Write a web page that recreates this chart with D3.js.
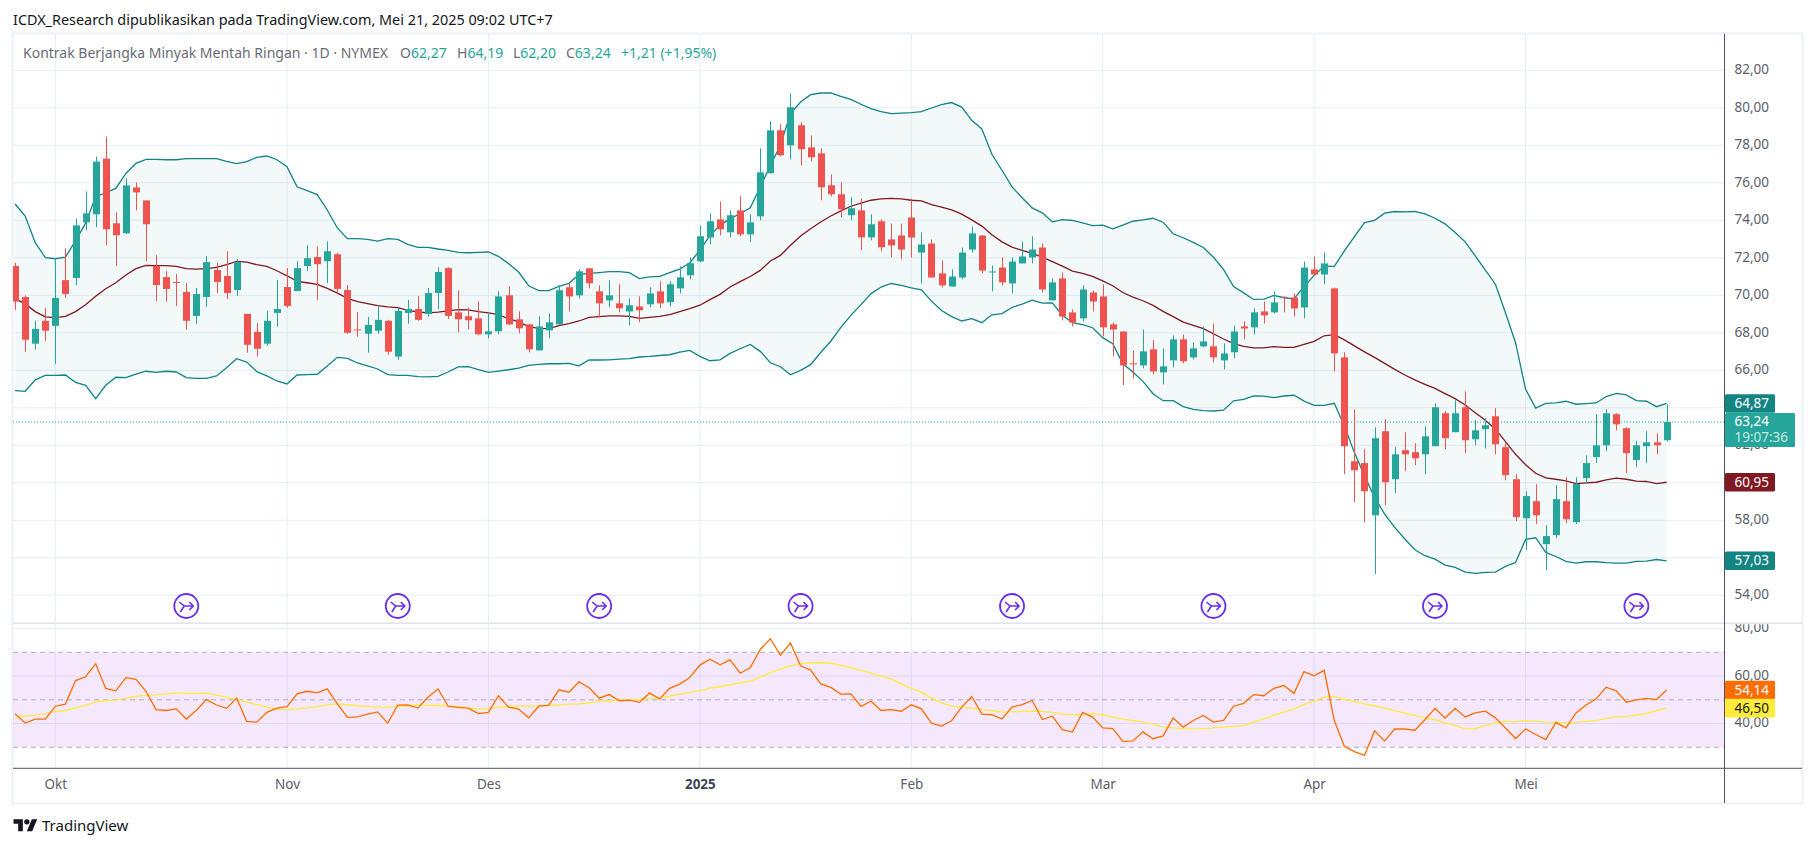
<!DOCTYPE html>
<html>
<head>
<meta charset="utf-8">
<title>Kontrak Berjangka Minyak Mentah Ringan</title>
<script src="https://cdn.jsdelivr.net/npm/d3@7"></script>
<style>
  html, body { margin: 0; padding: 0; background: #fff; }
  text { font-family: "Noto Sans", sans-serif; }
</style>
</head>
<body>
<div id="chart"></div>
<script>
// one entry per daily bar, left to right (the last bar is Mei 21)
const opens = [
  71.56,69.91,67.42,68.64,68.37,70.81,70.92,73.89,74.32,77.29,
  73.84,73.31,75.75,75.06,71.56,70.97,70.71,70.18,68.90,69.91,
  71.35,71.03,70.28,69.01,68.05,67.42,69.06,70.44,70.23,71.56,
  72.04,71.82,72.19,70.28,68.18,67.95,68.11,68.64,66.73,69.06,
  69.27,69.01,70.12,71.45,69.09,68.88,68.77,67.92,68.08,70.00,
  68.72,68.45,67.06,68.13,68.45,70.43,70.00,71.44,70.21,69.73,
  69.57,69.14,69.41,69.52,70.21,69.63,70.37,71.07,71.81,73.09,
  74.05,73.36,74.53,73.25,74.21,76.51,78.80,78.00,79.07,77.89,
  77.57,75.87,75.39,74.27,74.53,73.09,73.95,72.98,73.19,74.15,
  72.28,72.76,71.17,70.47,70.95,72.44,73.19,71.24,71.48,70.63,
  71.70,72.02,72.55,69.73,70.90,69.09,68.77,70.15,69.94,68.45,
  68.07,66.37,66.26,67.12,65.89,66.53,67.65,66.69,67.28,67.28,
  66.53,66.96,68.34,68.29,69.14,69.09,69.92,69.89,69.35,71.38,
  71.11,70.37,66.69,61.15,61.05,58.27,62.75,60.19,61.74,61.63,
  61.52,61.95,63.71,62.70,64.03,62.32,62.86,63.55,61.90,60.19,
  58.11,59.02,56.73,57.21,59.02,57.90,60.25,61.37,62.00,63.66,
  62.91,61.21,61.95,62.16,62.27
];
const highs = [
  71.73,70.00,68.64,69.33,71.96,72.51,74.09,75.54,77.40,78.46,
  74.42,76.23,76.02,75.06,72.14,71.29,71.13,70.65,70.39,72.09,
  71.72,72.35,71.93,69.01,68.53,69.17,70.81,71.45,71.82,72.67,
  72.62,72.88,72.25,70.55,69.11,68.85,69.38,68.69,69.33,69.75,
  69.96,70.39,71.50,71.50,70.27,69.36,69.68,69.09,70.21,70.48,
  69.14,68.45,68.88,69.04,70.53,70.69,71.39,71.44,70.53,70.80,
  70.59,69.84,69.94,70.43,70.75,70.75,71.55,72.03,73.73,74.37,
  75.01,74.53,75.28,74.32,77.84,79.28,79.12,80.77,79.23,78.53,
  77.84,76.45,76.03,75.23,75.17,74.32,74.05,73.83,73.83,75.16,
  73.35,72.98,71.86,71.38,72.55,73.67,73.19,71.59,72.02,72.02,
  72.87,73.14,72.76,70.90,71.22,69.25,70.53,70.26,70.58,68.55,
  68.07,67.06,68.18,67.60,67.17,67.86,67.91,67.49,68.34,68.50,
  67.44,68.39,68.61,69.30,69.67,70.21,69.94,70.10,71.80,72.07,
  72.28,70.42,66.96,63.92,61.79,62.96,63.39,61.90,62.70,62.11,
  63.02,64.24,63.82,64.40,64.88,63.34,63.44,63.98,62.11,60.46,
  59.55,59.93,57.74,59.87,60.30,60.30,61.47,63.66,63.92,63.71,
  62.96,62.22,62.75,62.64,64.19
];
const lows = [
  69.22,66.99,67.10,67.57,66.35,69.86,70.55,73.47,73.63,72.67,
  71.56,73.26,74.53,71.82,69.70,69.65,69.43,68.16,68.48,69.38,
  70.12,69.80,69.96,66.94,66.73,67.31,68.32,69.33,70.23,71.29,
  69.75,70.65,70.07,67.95,67.79,66.94,67.95,66.83,66.57,68.48,
  68.64,68.85,69.27,68.74,68.02,68.18,67.87,67.70,67.92,68.40,
  67.97,66.96,67.06,67.70,68.45,69.14,69.84,70.37,68.82,69.36,
  69.09,68.40,68.56,69.36,69.31,69.41,70.10,70.85,71.76,72.72,
  73.20,73.09,73.15,72.83,74.00,76.51,77.41,77.25,76.93,77.15,
  75.07,75.28,74.16,74.00,72.40,72.93,72.35,72.02,71.91,72.02,
  70.63,70.95,70.42,70.47,70.85,72.28,71.17,70.21,70.53,70.10,
  71.70,71.70,70.15,69.73,68.66,68.34,68.61,69.14,67.81,66.74,
  65.20,65.57,66.10,65.78,65.25,66.16,66.37,66.58,67.22,66.42,
  66.05,66.64,67.65,67.91,68.50,69.03,69.09,68.87,68.77,71.11,
  70.58,65.94,60.46,58.97,57.90,55.13,58.81,59.45,60.62,60.94,
  60.46,61.95,61.79,62.70,61.58,62.00,61.84,61.52,60.14,57.95,
  56.41,57.80,55.34,57.05,57.85,57.80,59.93,61.05,61.68,62.80,
  60.51,60.83,61.05,61.52,62.20
];
const closes = [
  69.66,67.63,68.21,68.11,69.86,70.07,73.73,74.37,77.13,73.52,
  73.20,75.86,75.49,73.79,70.55,70.34,70.67,68.64,70.07,71.77,
  70.71,70.12,71.77,67.36,67.15,68.64,69.27,69.43,71.45,71.98,
  71.66,72.35,70.34,68.00,68.14,68.42,68.69,66.99,69.17,69.27,
  68.69,70.12,71.24,68.90,68.72,68.67,67.92,68.08,69.94,68.45,
  68.24,67.12,68.34,68.56,70.27,69.94,71.28,70.64,69.57,70.00,
  69.31,69.47,69.20,70.10,69.57,70.59,70.96,71.71,73.15,73.95,
  73.52,74.27,73.25,73.89,76.56,78.80,77.47,80.03,77.79,77.36,
  75.76,75.39,74.59,74.64,73.09,73.79,72.56,72.66,72.44,73.08,
  72.71,70.95,70.53,71.00,72.28,73.30,71.32,71.27,70.69,71.80,
  72.07,72.44,70.31,70.69,68.87,68.55,70.31,69.67,68.29,68.18,
  66.26,66.33,67.01,65.94,66.21,67.65,66.48,67.17,67.54,66.69,
  66.90,68.07,68.23,69.09,68.93,69.62,69.89,69.30,71.48,71.11,
  71.70,66.90,61.95,60.67,59.55,62.38,60.03,61.52,61.52,61.31,
  62.48,64.03,62.38,63.71,62.27,62.80,63.07,62.06,60.41,58.17,
  59.29,58.27,57.16,59.13,58.06,59.93,61.05,62.00,63.71,63.12,
  61.58,62.00,62.16,62.00,63.24
];
const bbUpper = [
  74.87,74.23,72.81,72.01,71.95,72.04,72.90,73.85,75.25,75.47,
  75.70,76.50,77.04,77.25,77.25,77.23,77.23,77.29,77.29,77.29,
  77.29,77.14,77.02,77.13,77.36,77.43,77.23,76.86,75.79,75.58,
  75.37,74.55,73.59,73.02,73.02,72.98,72.89,73.02,72.98,72.72,
  72.56,72.56,72.47,72.40,72.29,72.27,72.29,72.31,72.08,71.69,
  71.24,70.51,70.25,70.25,70.48,70.64,71.12,71.17,71.21,71.26,
  71.26,71.21,70.89,70.98,71.01,71.21,71.39,71.74,72.40,73.20,
  73.73,74.09,74.35,74.67,75.78,76.93,78.00,79.69,80.31,80.70,
  80.79,80.79,80.61,80.45,80.19,79.96,79.80,79.69,79.72,79.74,
  79.80,79.99,80.17,80.28,80.04,79.33,78.87,77.52,76.67,75.78,
  75.20,74.66,74.40,73.92,74.04,73.99,73.86,73.72,73.74,73.54,
  73.74,73.95,74.02,74.11,73.90,73.28,73.07,72.82,72.55,72.03,
  71.38,70.47,70.13,69.78,69.80,69.99,69.87,69.81,70.47,71.06,
  71.56,71.54,72.37,73.13,73.88,74.00,74.38,74.47,74.45,74.47,
  74.34,74.11,73.81,73.35,72.85,72.10,71.34,70.59,69.07,67.47,
  64.99,63.98,64.24,64.26,64.35,64.19,64.22,64.26,64.60,64.77,
  64.69,64.38,64.35,64.06,64.24
];
const bbBasis = [
  69.82,69.54,69.13,68.85,68.81,68.88,69.13,69.50,69.95,70.35,
  70.67,71.08,71.42,71.59,71.58,71.58,71.54,71.42,71.40,71.42,
  71.49,71.63,71.81,71.77,71.63,71.54,71.31,71.04,70.74,70.67,
  70.58,70.37,70.12,69.84,69.66,69.56,69.45,69.38,69.34,69.20,
  69.11,69.06,69.10,69.17,69.24,69.22,69.13,69.06,68.97,68.75,
  68.58,68.33,68.24,68.22,68.38,68.49,68.63,68.82,68.86,68.90,
  68.90,68.88,68.77,68.82,68.88,68.97,69.13,69.29,69.47,69.77,
  70.05,70.44,70.73,71.00,71.33,71.83,72.13,72.67,73.16,73.55,
  73.91,74.23,74.50,74.75,74.92,75.07,75.14,75.17,75.14,75.07,
  75.04,74.84,74.70,74.56,74.33,74.02,73.69,73.23,72.85,72.57,
  72.39,72.23,72.04,71.80,71.56,71.29,71.17,71.01,70.77,70.51,
  70.15,69.90,69.71,69.46,69.14,68.86,68.57,68.39,68.22,67.95,
  67.67,67.42,67.28,67.20,67.20,67.26,67.22,67.22,67.38,67.54,
  67.84,67.90,67.62,67.30,66.98,66.69,66.37,66.05,65.75,65.49,
  65.25,65.04,64.76,64.49,64.15,63.74,63.34,62.86,62.20,61.52,
  60.96,60.51,60.26,60.19,60.10,59.96,60.00,60.03,60.16,60.25,
  60.19,60.09,60.07,59.96,60.03
];
const bbLower = [
  64.92,64.88,65.49,65.73,65.73,65.75,65.36,65.20,64.49,65.20,
  65.63,65.61,65.80,65.95,65.89,65.95,65.91,65.61,65.57,65.57,
  65.70,66.14,66.62,66.44,65.93,65.70,65.43,65.27,65.75,65.77,
  65.79,66.23,66.69,66.64,66.39,66.23,66.07,65.77,65.73,65.73,
  65.66,65.65,65.68,65.91,66.18,66.19,66.03,65.89,65.96,66.03,
  66.12,66.26,66.32,66.35,66.35,66.37,66.24,66.55,66.55,66.56,
  66.60,66.62,66.71,66.74,66.79,66.83,66.97,67.06,66.74,66.51,
  66.56,66.90,67.15,67.38,67.01,66.40,66.19,65.76,66.00,66.30,
  66.95,67.55,68.29,68.93,69.50,70.09,70.44,70.63,70.53,70.40,
  70.29,69.69,69.19,68.86,68.63,68.75,68.54,68.96,69.02,69.35,
  69.53,69.74,69.58,69.60,68.94,68.54,68.43,68.27,67.74,67.42,
  66.35,65.91,65.41,64.75,64.38,64.38,64.06,63.92,63.85,63.83,
  63.87,64.37,64.45,64.63,64.62,64.54,64.63,64.67,64.36,64.13,
  64.13,64.24,63.03,61.61,60.37,59.22,58.33,57.62,57.00,56.43,
  56.11,55.93,55.61,55.49,55.24,55.17,55.22,55.24,55.54,55.75,
  56.98,57.07,56.29,56.07,55.81,55.72,55.79,55.79,55.74,55.72,
  55.72,55.81,55.82,55.91,55.84
];
const rsi = [
  44.1,40.2,41.9,41.9,47.3,48.2,58.1,59.7,65.2,54.8,
  53.8,59.3,58.6,53.6,45.9,45.5,46.2,41.9,45.6,50.1,
  47.8,46.4,50.7,40.9,40.6,44.7,46.5,47.1,52.5,53.6,
  52.9,54.6,48.3,42.6,42.8,44.0,44.9,40.2,47.8,47.9,
  46.5,51.1,54.6,47.3,46.8,46.5,44.2,44.7,51.7,46.9,
  46.1,42.4,47.3,47.8,54.2,53.2,57.6,55.1,50.7,52.2,
  49.6,49.9,48.9,52.9,50.4,54.8,56.6,59.4,64.6,67.1,
  64.7,66.8,61.2,63.5,71.2,75.7,68.8,73.9,64.3,62.5,
  56.7,55.2,52.4,52.5,47.2,49.4,45.5,45.9,45.2,47.9,
  46.2,40.2,38.9,41.2,46.9,51.4,44.0,43.7,41.9,46.9,
  48.0,49.7,41.7,43.1,37.4,36.4,44.7,42.7,38.2,37.9,
  32.5,32.7,36.5,33.6,34.8,42.3,38.5,41.3,43.4,40.6,
  41.3,47.3,48.5,52.2,51.7,54.8,56.0,52.7,61.9,60.1,
  62.4,41.3,30.4,28.2,26.6,36.9,32.7,37.7,37.7,37.2,
  41.6,46.4,42.3,46.4,42.8,44.5,45.2,42.4,38.1,33.7,
  37.7,35.4,33.2,40.5,38.2,44.5,47.8,50.4,55.3,53.8,
  49.0,50.0,50.6,50.1,54.14
];
const rsiMa = [
  42.8,43.1,43.4,44.1,45.1,45.5,46.6,47.8,49.0,49.7,
  49.9,50.7,51.5,52.0,52.2,52.5,52.8,52.8,52.7,52.8,
  52.0,51.1,50.1,49.0,48.0,46.9,46.1,45.8,46.2,46.6,
  47.1,47.9,48.3,47.9,47.5,47.2,46.9,46.8,47.2,47.5,
  47.8,47.8,47.6,47.3,47.1,46.6,46.2,46.2,46.9,47.1,
  47.3,47.3,47.3,47.6,47.9,48.2,48.3,48.7,49.3,49.6,
  50.0,50.1,50.3,50.6,50.8,51.5,52.4,53.1,53.8,54.9,
  55.5,56.3,57.2,57.9,59.5,61.5,62.9,64.3,65.3,65.6,
  65.7,65.4,64.5,63.5,62.4,61.2,60.0,58.7,56.7,54.8,
  53.2,50.7,48.7,47.3,46.8,46.5,45.9,45.5,44.9,44.9,
  45.1,45.2,45.1,44.7,44.0,43.8,43.8,44.2,43.7,42.7,
  41.9,41.2,40.6,39.8,38.6,38.2,37.9,37.8,37.9,38.2,
  38.5,38.8,39.2,40.5,42.0,43.4,44.8,46.2,48.0,49.4,
  51.1,51.3,50.3,49.2,48.3,47.5,46.5,45.4,44.4,43.4,
  42.4,41.6,40.3,39.2,37.8,37.9,39.1,40.3,40.9,40.7,
  41.2,40.9,40.6,40.5,40.3,40.5,40.9,41.2,42.1,42.8,
  43.0,43.5,44.2,45.4,46.5
];

const priceTicks = d3.range(82, 52, -2);
// 64 and 60 sit fully behind the value labels, so they get a grid line only
const priceTickLabels = priceTicks.filter(d => d !== 64 && d !== 60);
const rsiTicks = [80, 60, 40];
const rsiDashed = [70, 50, 30];
// bar position of each month start
const monthLabels = ['Okt', 'Nov', 'Des', '2025', 'Feb', 'Mar', 'Apr', 'Mei'];
const monthBars = [4, 27, 47, 68, 89, 108, 129, 150];
const eventBars = [17, 38, 58, 78, 99, 119, 141, 161];

const lastPrice = '63,24';
const countdown = '19:07:36';
const bandLabels = ['64,87', '60,95', '57,03'];
const rsiLabels = ['54,14', '46,50'];
const legendName = 'Kontrak Berjangka Minyak Mentah Ringan · 1D · NYMEX';
const legendOhlc = [['O', '62,27'], ['H', '64,19'], ['L', '62,20'], ['C', '63,24']];
const legendChange = '+1,21 (+1,95%)';
const publishLine = 'ICDX_Research dipublikasikan pada TradingView.com, Mei 21, 2025 09:02 UTC+7';

const UP = '#26a69a', DOWN = '#ef5350', BAND = '#138484', BASIS = '#801922';
const RSI_LINE = '#ff6d00', RSI_MA = '#ffeb3b', GRID = '#e6eef4', AXIS = '#50535e', TICK = '#5d606b';

const W = 1814, H = 847;
const left = 13, axisX = 1724.5, frameR = 1802, frameT = 34, frameB = 803, sepY = 623.3, timeY = 768.3;

const svg = d3.select('#chart').append('svg').attr('width', W).attr('height', H).style('display', 'block');
const defs = svg.append('defs');
defs.append('clipPath').attr('id', 'plot').append('rect')
  .attr('x', left).attr('y', frameT).attr('width', axisX - left).attr('height', sepY - frameT);
defs.append('clipPath').attr('id', 'rsiScale').append('rect')
  .attr('x', axisX).attr('y', sepY + 1).attr('width', frameR - axisX).attr('height', timeY - sepY);

const x = d3.scaleLinear().domain([0, 164]).range([15.1, 1666.6]);
const y = d3.scaleLinear().domain([82, 54]).range([70.3, 595.3]);
const yr = d3.scaleLinear().domain([70, 30]).range([652.3, 747.3]);
const bars = d3.range(opens.length);

// outer frame
svg.append('rect').attr('x', left - 0.5).attr('y', frameT - 0.5).attr('width', frameR - left + 1).attr('height', frameB - frameT + 1)
  .attr('fill', 'none').attr('stroke', '#f0f3fa').attr('stroke-width', 2.5);

// grid
svg.append('g').selectAll('line').data(priceTicks).join('line')
  .attr('x1', left).attr('x2', axisX).attr('y1', d => y(d)).attr('y2', d => y(d))
  .attr('stroke', GRID).attr('stroke-width', 1);
svg.append('g').selectAll('line').data(rsiTicks).join('line')
  .attr('x1', left).attr('x2', axisX).attr('y1', d => yr(d)).attr('y2', d => yr(d))
  .attr('stroke', GRID).attr('stroke-width', 1);
svg.append('g').selectAll('line').data(monthBars).join('line')
  .attr('x1', d => x(d)).attr('x2', d => x(d)).attr('y1', frameT).attr('y2', timeY)
  .attr('stroke', GRID).attr('stroke-width', 1);

// pane separator
svg.append('line').attr('x1', left).attr('x2', frameR).attr('y1', sepY).attr('y2', sepY)
  .attr('stroke', '#e0e3eb').attr('stroke-width', 1.5);

// bollinger bands
const plot = svg.append('g').attr('clip-path', 'url(#plot)');
plot.append('path').datum(bars)
  .attr('d', d3.area().x(i => x(i)).y0(i => y(bbUpper[i])).y1(i => y(bbLower[i])))
  .attr('fill', BAND).attr('fill-opacity', 0.05);
const bandLine = s => d3.line().x(i => x(i)).y(i => y(s[i]));
[[bbUpper, BAND], [bbLower, BAND], [bbBasis, BASIS]].forEach(([s, c]) => {
  plot.append('path').datum(bars).attr('d', bandLine(s))
    .attr('fill', 'none').attr('stroke', c).attr('stroke-width', 1.3);
});

// last price line
plot.append('line').attr('x1', left).attr('x2', axisX).attr('y1', y(closes[164])).attr('y2', y(closes[164]))
  .attr('stroke', UP).attr('stroke-width', 1).attr('stroke-dasharray', '1 2');

// candles
const barColor = i => closes[i] >= opens[i] ? UP : DOWN;
plot.append('g').selectAll('line').data(bars).join('line')
  .attr('x1', i => Math.round(x(i)) + 0.5).attr('x2', i => Math.round(x(i)) + 0.5)
  .attr('y1', i => y(highs[i])).attr('y2', i => y(lows[i]))
  .attr('stroke', barColor).attr('stroke-width', 1);
plot.append('g').selectAll('rect').data(bars).join('rect')
  .attr('x', i => Math.round(x(i)) - 3)
  .attr('width', 7)
  .attr('y', i => y(Math.max(opens[i], closes[i])))
  .attr('height', i => Math.max(1, Math.abs(y(opens[i]) - y(closes[i]))))
  .attr('fill', barColor);

// event markers
const markers = plot.append('g').selectAll('g').data(eventBars).join('g')
  .attr('transform', d => `translate(${x(d)},606)`);
markers.append('circle').attr('r', 12).attr('fill', '#fff').attr('stroke', '#6a2df2').attr('stroke-width', 1.8);
markers.append('path')
  .attr('d', 'M-7,-4 L-2,0 L7,0 M3,-4 L7,0 L3,4 M-2,0 L-6,6')
  .attr('fill', 'none').attr('stroke', '#6a2df2').attr('stroke-width', 1.6);

// rsi pane
const rsiPane = svg.append('g');
rsiPane.append('rect').attr('x', left).attr('width', axisX - left)
  .attr('y', yr(70)).attr('height', yr(30) - yr(70))
  .attr('fill', 'rgb(186,104,240)').attr('fill-opacity', 0.15);
rsiPane.selectAll('line').data(rsiDashed).join('line')
  .attr('x1', left).attr('x2', axisX).attr('y1', d => yr(d)).attr('y2', d => yr(d))
  .attr('stroke', '#787b86').attr('stroke-opacity', 0.55).attr('stroke-dasharray', '5 4');
const rsiLine = s => d3.line().x(i => x(i)).y(i => yr(s[i]));
rsiPane.append('path').datum(bars).attr('d', rsiLine(rsiMa))
  .attr('fill', 'none').attr('stroke', RSI_MA).attr('stroke-width', 1.3);
rsiPane.append('path').datum(bars).attr('d', rsiLine(rsi))
  .attr('fill', 'none').attr('stroke', RSI_LINE).attr('stroke-width', 1.3);

// axes
const comma = d => d3.format('.2f')(d).replace('.', ',');
const priceAxis = svg.append('g').attr('transform', `translate(${axisX},0)`)
  .call(d3.axisRight(y).tickValues(priceTickLabels).tickFormat(comma).tickSize(0).tickPadding(10));
const rsiAxis = svg.append('g').attr('clip-path', 'url(#rsiScale)').append('g').attr('transform', `translate(${axisX},0)`)
  .call(d3.axisRight(yr).tickValues(rsiTicks).tickFormat(comma).tickSize(0).tickPadding(10));
const timeAxis = svg.append('g').attr('transform', `translate(0,${timeY})`)
  .call(d3.axisBottom(x).tickValues(monthBars).tickFormat((d, i) => monthLabels[i]).tickSize(0).tickPadding(11));
[priceAxis, rsiAxis, timeAxis].forEach(a => {
  a.select('.domain').remove();
  a.selectAll('text').attr('fill', TICK).style('font-family', '"Noto Sans", sans-serif').style('font-size', '13.5px');
});
priceAxis.selectAll('text').attr('dy', '0.24em');
rsiAxis.selectAll('text').attr('dy', '0.24em');
timeAxis.selectAll('text').filter(d => d === 68).style('font-weight', 700).attr('fill', '#434651');

svg.append('line').attr('x1', axisX).attr('x2', axisX).attr('y1', frameT).attr('y2', frameB).attr('stroke', AXIS).attr('stroke-width', 1);
svg.append('line').attr('x1', left).attr('x2', frameR).attr('y1', timeY).attr('y2', timeY).attr('stroke', AXIS).attr('stroke-width', 1);

// value labels on the scale
function valueLabel(py, label, fill, textFill) {
  svg.append('rect').attr('x', axisX + 0.5).attr('y', py - 9.3).attr('width', 50).attr('height', 18.6).attr('rx', 1.5).attr('fill', fill);
  svg.append('text').attr('x', axisX + 10).attr('y', py + 4.6).attr('fill', textFill).style('font-size', '13.5px').text(label);
}
const e = opens.length - 1;
valueLabel(403.5, bandLabels[0], BAND, '#fff');
valueLabel(y(bbBasis[e]), bandLabels[1], BASIS, '#fff');
valueLabel(y(bbLower[e]), bandLabels[2], BAND, '#fff');
valueLabel(yr(rsi[e]), rsiLabels[0], RSI_LINE, '#fff');
valueLabel(yr(rsiMa[e]), rsiLabels[1], RSI_MA, '#131722');

const py = y(closes[e]);
svg.append('rect').attr('x', axisX + 0.5).attr('y', py - 9).attr('width', 70).attr('height', 34).attr('rx', 1.5).attr('fill', UP);
svg.append('text').attr('x', axisX + 10).attr('y', py + 4).attr('fill', '#fff').style('font-size', '13.5px').text(lastPrice);
svg.append('text').attr('x', axisX + 10).attr('y', py + 20).attr('fill', '#fff').attr('fill-opacity', 0.75).style('font-size', '13.5px').text(countdown);

// header and legend
svg.append('text').attr('x', 13).attr('y', 24.5).attr('fill', '#131722').style('font-size', '14.4px').text(publishLine);
const LEGEND = '#6a6d78', LY = 58;
svg.append('text').attr('x', 23).attr('y', LY).attr('fill', LEGEND).style('font-size', '14px').text(legendName);
const legendX = [400, 457, 513, 566];
legendOhlc.forEach(([k, v], i) => {
  const t = svg.append('text').attr('x', legendX[i]).attr('y', LY).style('font-size', '14px');
  t.append('tspan').attr('fill', LEGEND).text(k);
  t.append('tspan').attr('fill', UP).text(v);
});
svg.append('text').attr('x', 621).attr('y', LY).attr('fill', UP).style('font-size', '14px').text(legendChange);

// logo
const logo = svg.append('g').attr('transform', 'translate(13.5,816.5) scale(0.667)').attr('fill', '#131722');
logo.append('path').attr('d', 'M14 22H7V11H0V4h14v18zM28 22h-8l7.5-18h8L28 22z');
logo.append('circle').attr('cx', 20).attr('cy', 8).attr('r', 4);
svg.append('text').attr('x', 42).attr('y', 831).attr('fill', '#131722').style('font-size', '15px').text('TradingView');
</script>
</body>
</html>
